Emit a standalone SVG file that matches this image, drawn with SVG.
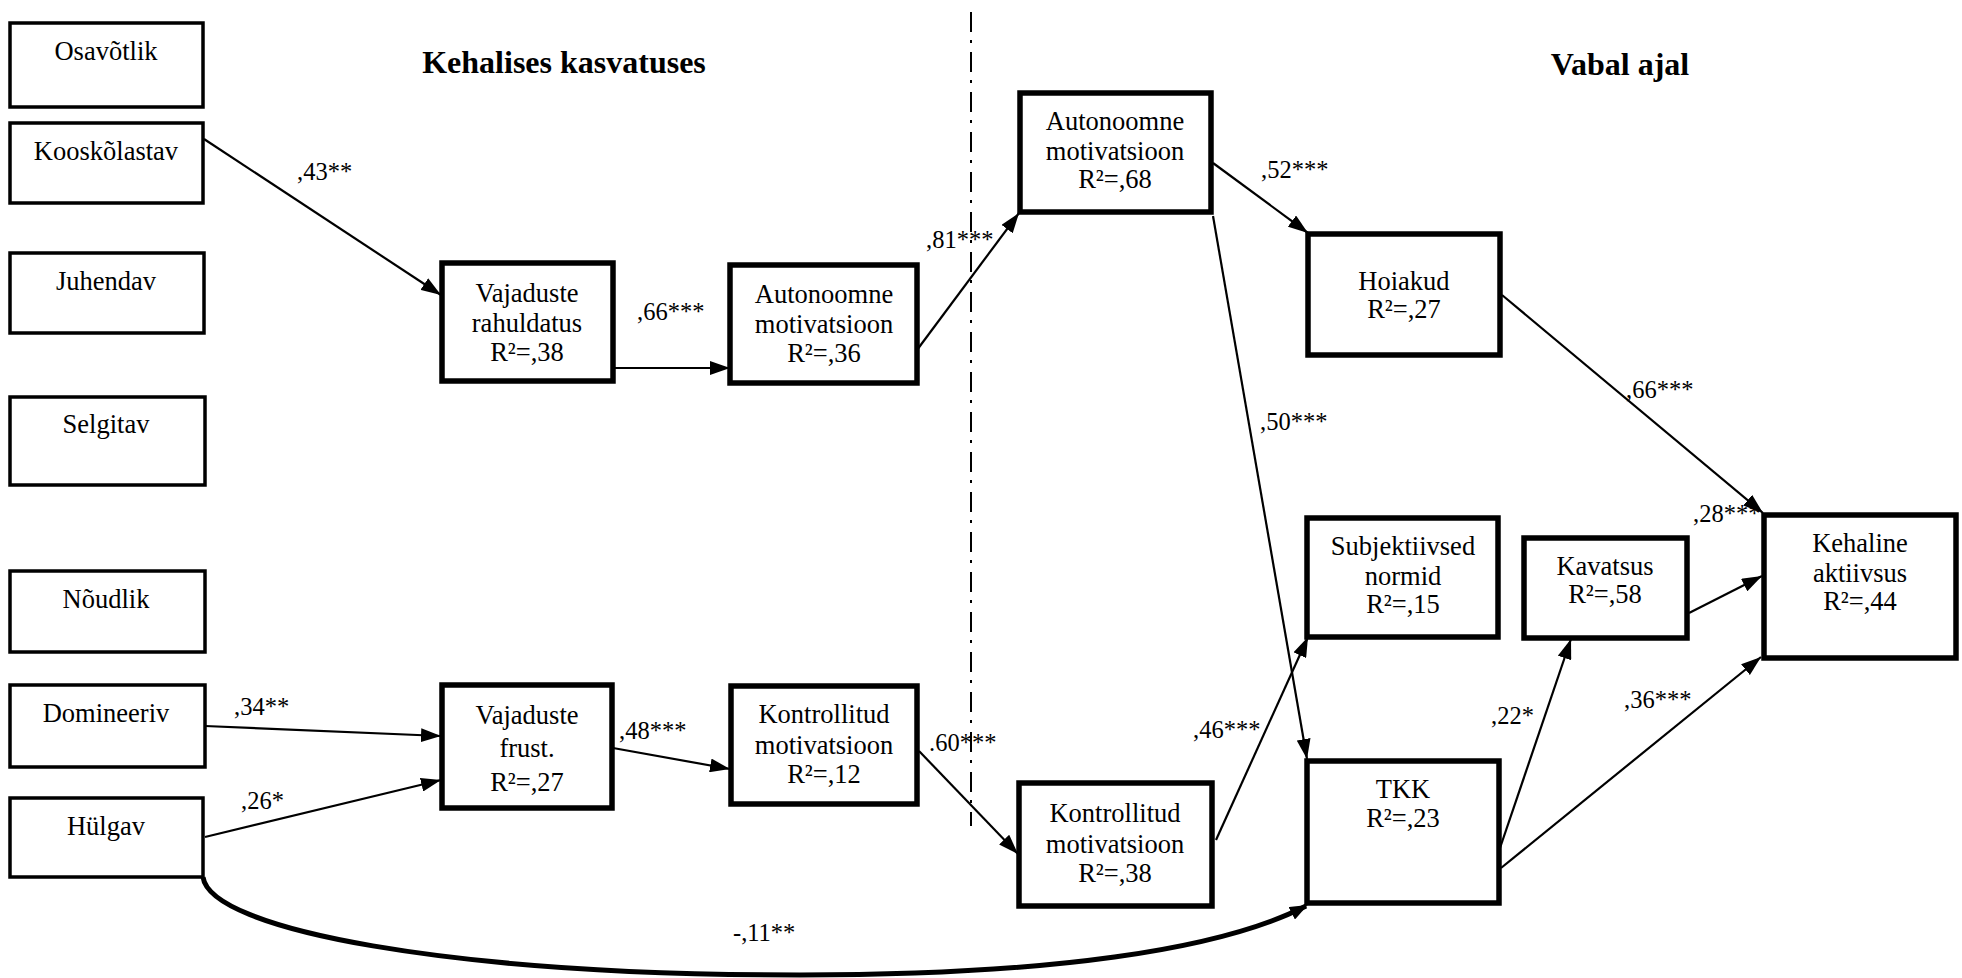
<svg xmlns="http://www.w3.org/2000/svg" width="1962" height="978" viewBox="0 0 1962 978" font-family="Liberation Serif, Times New Roman, serif">
<style>
text{font-family:"Liberation Serif","Times New Roman",serif;fill:#000}
.t{font-size:26.5px;text-anchor:middle}
.l{font-size:24.5px}
.h{font-size:32px;font-weight:bold;text-anchor:middle}
.b1{fill:#fff;stroke:#000;stroke-width:3.5}
.b2{fill:#fff;stroke:#000;stroke-width:5.5}
.c{fill:none;stroke:#000;stroke-width:2.2}
.cv{fill:none;stroke:#000;stroke-width:5}
.dd{stroke:#000;stroke-width:2;stroke-dasharray:20 8 3 9}
</style>
<defs>
<marker id="ar" markerUnits="userSpaceOnUse" markerWidth="20" markerHeight="14" refX="20" refY="7" orient="auto" viewBox="0 0 20 14">
<path d="M0,0 L20,7 L0,14 z" fill="#000"/>
</marker>
<marker id="ar2" markerUnits="userSpaceOnUse" markerWidth="18" markerHeight="14" refX="16" refY="7" orient="auto" viewBox="0 0 18 14">
<path d="M0,0 L18,7 L0,14 z" fill="#000"/>
</marker>
</defs>
<rect width="1962" height="978" fill="#fff"/>
<text class="h" x="564" y="73">Kehalises kasvatuses</text>
<text class="h" x="1620" y="75">Vabal ajal</text>
<line class="dd" x1="971" y1="12" x2="971" y2="826"/>
<g id="connectors">
<line class="c" x1="204" y1="139" x2="441" y2="295" marker-end="url(#ar)"/>
<line class="c" x1="613" y1="368" x2="730" y2="368" marker-end="url(#ar)"/>
<line class="c" x1="917" y1="350" x2="1019" y2="213" marker-end="url(#ar)"/>
<line class="c" x1="1213" y1="163" x2="1308" y2="233" marker-end="url(#ar)"/>
<line class="c" x1="1213" y1="216" x2="1307" y2="759" marker-end="url(#ar)"/>
<line class="c" x1="1502" y1="295" x2="1763" y2="513" marker-end="url(#ar)"/>
<line class="c" x1="1689" y1="613" x2="1762" y2="576" marker-end="url(#ar)"/>
<line class="c" x1="1500" y1="848" x2="1571" y2="639" marker-end="url(#ar)"/>
<line class="c" x1="1501" y1="868" x2="1761" y2="657" marker-end="url(#ar)"/>
<line class="c" x1="205" y1="726" x2="441" y2="736" marker-end="url(#ar)"/>
<line class="c" x1="205" y1="837" x2="441" y2="780" marker-end="url(#ar)"/>
<line class="c" x1="613" y1="748" x2="730" y2="769" marker-end="url(#ar)"/>
<line class="c" x1="919" y1="751" x2="1018" y2="854" marker-end="url(#ar)"/>
<line class="c" x1="1216" y1="840" x2="1308" y2="637" marker-end="url(#ar)"/>
<path class="cv" d="M203,877 C210,930 450,975 800,975 C1050,975 1220,950 1306,906" marker-end="url(#ar2)"/>
<text class="l" x="297" y="180">,43**</text>
<text class="l" x="637" y="320">,66***</text>
<text class="l" x="926" y="248">,81***</text>
<text class="l" x="1261" y="178">,52***</text>
<text class="l" x="1260" y="430">,50***</text>
<text class="l" x="1626" y="398">,66***</text>
<text class="l" x="1693" y="522">,28***</text>
<text class="l" x="1491" y="724">,22*</text>
<text class="l" x="1624" y="708">,36***</text>
<text class="l" x="234" y="715">,34**</text>
<text class="l" x="241" y="809">,26*</text>
<text class="l" x="619" y="739">,48***</text>
<text class="l" x="929" y="751">.60***</text>
<text class="l" x="1193" y="738">,46***</text>
<text class="l" x="733" y="941">-,11**</text>
</g>
<g id="n-osavotlik"><rect class="b1" x="10" y="23" width="193" height="84"/><text class="t" x="106" y="60">Osavõtlik</text></g>
<g id="n-kooskolastav"><rect class="b1" x="10" y="123" width="193" height="80"/><text class="t" x="106" y="160">Kooskõlastav</text></g>
<g id="n-juhendav"><rect class="b1" x="10" y="253" width="194" height="80"/><text class="t" x="106" y="290">Juhendav</text></g>
<g id="n-selgitav"><rect class="b1" x="10" y="397" width="195" height="88"/><text class="t" x="106" y="433">Selgitav</text></g>
<g id="n-noudlik"><rect class="b1" x="10" y="571" width="195" height="81"/><text class="t" x="106" y="608">Nõudlik</text></g>
<g id="n-domineeriv"><rect class="b1" x="10" y="685" width="195" height="82"/><text class="t" x="106" y="722">Domineeriv</text></g>
<g id="n-hulgav"><rect class="b1" x="10" y="798" width="193" height="79"/><text class="t" x="106" y="835">Hülgav</text></g>
<g id="n-vaj-rah"><rect class="b2" x="442" y="263" width="171" height="118"/><text class="t" x="527" y="302">Vajaduste</text><text class="t" x="527" y="332">rahuldatus</text><text class="t" x="527" y="361">R²=,38</text></g>
<g id="n-vaj-frust"><rect class="b2" x="442" y="685" width="170" height="123"/><text class="t" x="527" y="724">Vajaduste</text><text class="t" x="527" y="757">frust.</text><text class="t" x="527" y="791">R²=,27</text></g>
<g id="n-aut-mot1"><rect class="b2" x="730" y="265" width="187" height="118"/><text class="t" x="824" y="303">Autonoomne</text><text class="t" x="824" y="333">motivatsioon</text><text class="t" x="824" y="362">R²=,36</text></g>
<g id="n-kon-mot1"><rect class="b2" x="731" y="686" width="186" height="118"/><text class="t" x="824" y="723">Kontrollitud</text><text class="t" x="824" y="754">motivatsioon</text><text class="t" x="824" y="783">R²=,12</text></g>
<g id="n-aut-mot2"><rect class="b2" x="1020" y="93" width="191" height="119"/><text class="t" x="1115" y="130">Autonoomne</text><text class="t" x="1115" y="160">motivatsioon</text><text class="t" x="1115" y="188">R²=,68</text></g>
<g id="n-kon-mot2"><rect class="b2" x="1019" y="783" width="193" height="123"/><text class="t" x="1115" y="822">Kontrollitud</text><text class="t" x="1115" y="853">motivatsioon</text><text class="t" x="1115" y="882">R²=,38</text></g>
<g id="n-hoiakud"><rect class="b2" x="1308" y="234" width="192" height="121"/><text class="t" x="1404" y="290">Hoiakud</text><text class="t" x="1404" y="318">R²=,27</text></g>
<g id="n-subj"><rect class="b2" x="1307" y="518" width="191" height="119"/><text class="t" x="1403" y="555">Subjektiivsed</text><text class="t" x="1403" y="585">normid</text><text class="t" x="1403" y="613">R²=,15</text></g>
<g id="n-tkk"><rect class="b2" x="1307" y="761" width="192" height="142"/><text class="t" x="1403" y="798">TKK</text><text class="t" x="1403" y="827">R²=,23</text></g>
<g id="n-kavatsus"><rect class="b2" x="1524" y="538" width="163" height="100"/><text class="t" x="1605" y="575">Kavatsus</text><text class="t" x="1605" y="603">R²=,58</text></g>
<g id="n-kehaline"><rect class="b2" x="1764" y="515" width="192" height="143"/><text class="t" x="1860" y="552">Kehaline</text><text class="t" x="1860" y="582">aktiivsus</text><text class="t" x="1860" y="610">R²=,44</text></g>
</svg>
